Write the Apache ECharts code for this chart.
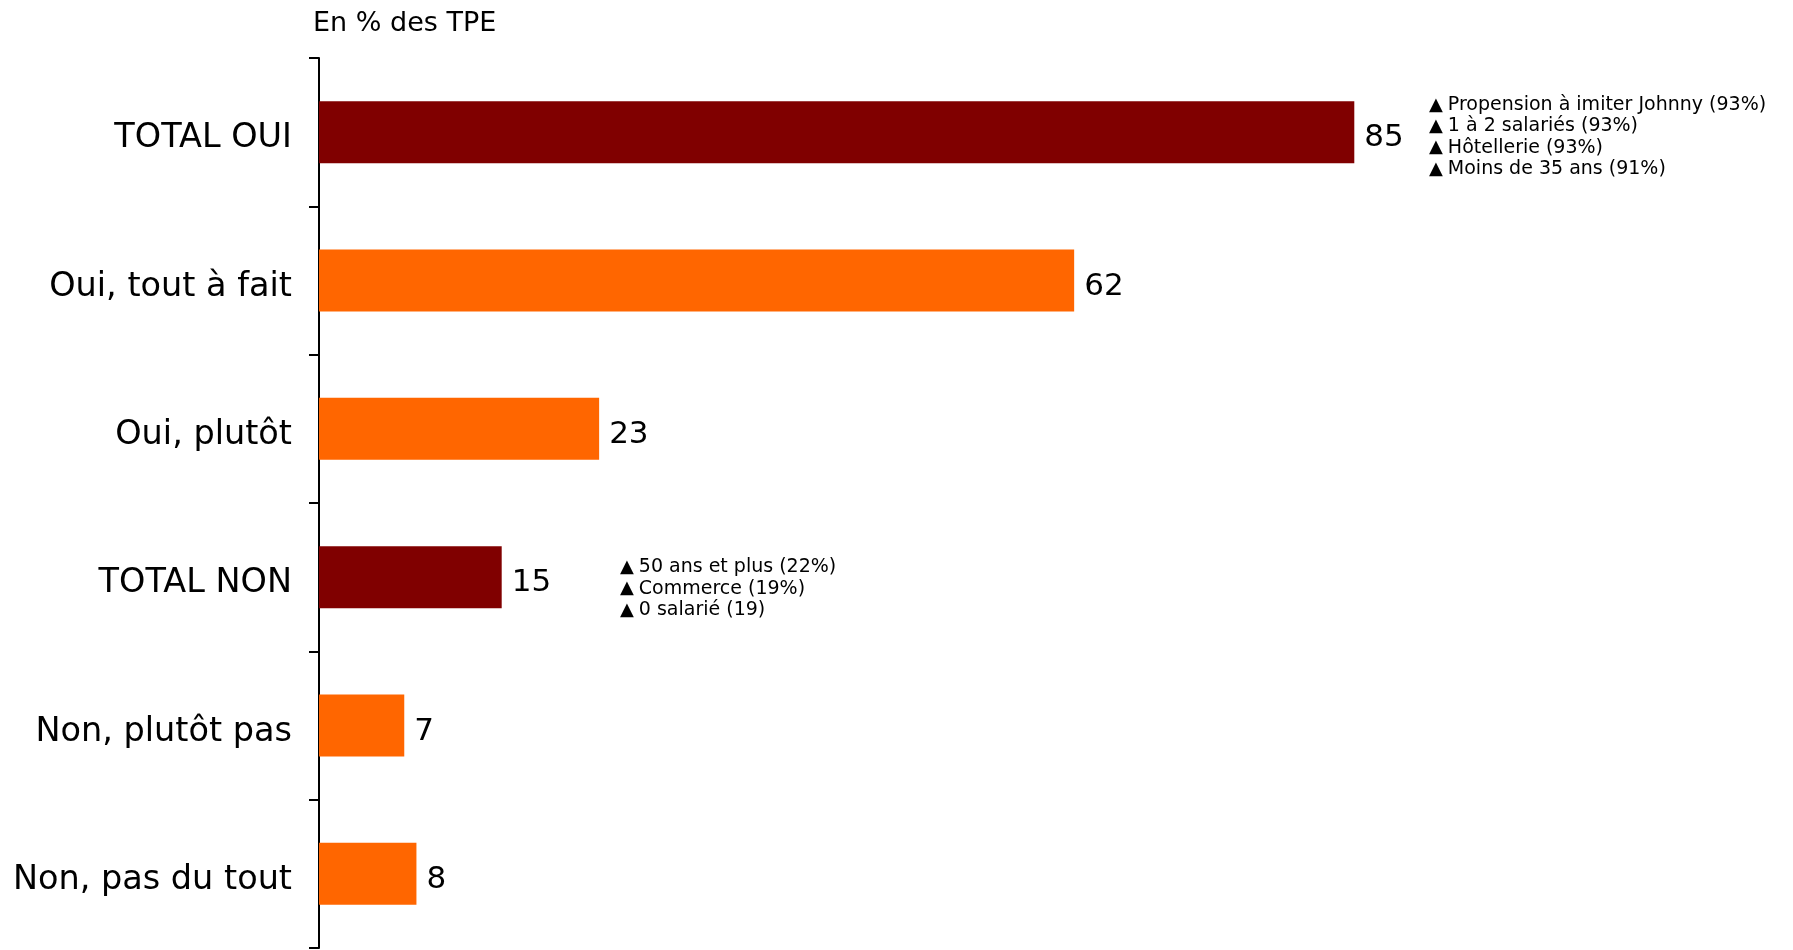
<!DOCTYPE html>
<html>
<head>
<meta charset="utf-8">
<script src="https://cdn.jsdelivr.net/npm/echarts@6/dist/echarts.min.js"></script>
<style>html,body{margin:0;padding:0;background:#fff}#c{width:1793px;height:950px}</style>
</head>
<body>
<div id="c"></div>
<script>
const categories = ['TOTAL OUI', 'Oui, tout à fait', 'Oui, plutôt', 'TOTAL NON', 'Non, plutôt pas', 'Non, pas du tout'];
const values = [85, 62, 23, 15, 7, 8];
const isTotal = [true, false, false, true, false, false];
const unitLabel = 'En % des TPE';
const notesOui = ['Propension à imiter Johnny (93%)', '1 à 2 salariés (93%)', 'Hôtellerie (93%)', 'Moins de 35 ans (91%)'];
const notesNon = ['50 ans et plus (22%)', 'Commerce (19%)', '0 salarié (19)'];

const FONT = 'DejaVu Sans, Verdana, sans-serif';
const chart = echarts.init(document.getElementById('c'));

chart.setOption({
  animation: false,
  backgroundColor: '#fff',
  grid: { left: 319, right: 256, top: 58, bottom: 2, containLabel: false },
  xAxis: { type: 'value', min: 0, max: 100, show: false },
  yAxis: {
    type: 'category', data: categories, inverse: true,
    axisLine: { show: true, lineStyle: { color: '#000', width: 2 } },
    axisTick: { show: true, length: 10, lineStyle: { color: '#000', width: 2 } },
    axisLabel: { margin: 27, fontSize: 33.5, color: '#000', fontFamily: FONT, verticalAlign: 'top', lineHeight: 13 },
    splitLine: { show: false }
  },
  series: [{
    type: 'bar',
    data: values.map((v, i) => ({ value: v, itemStyle: { color: isTotal[i] ? '#800000' : '#FF6600' } })),
    barWidth: 62,
    label: { show: true, position: 'right', distance: 10, fontSize: 31, color: '#000', fontFamily: FONT, offset: [0, 6] }
  }]
});

function noteBlock(lines, x, yCenter, lh) {
  const txt = lines.map(l => '{t|▲}{s|' + l + '}').join('\n');
  return {
    type: 'text', left: x, top: yCenter - lines.length * lh / 2,
    style: {
      text: txt, fill: '#000', fontFamily: FONT, fontSize: 19, lineHeight: lh,
      rich: {
        t: { fontSize: 18, fontFamily: FONT, lineHeight: lh, verticalAlign: 'middle' },
        s: { fontSize: 19, fontFamily: FONT, lineHeight: lh, padding: [0, 0, 0, 5] }
      }
    }
  };
}

const p1 = chart.convertToPixel({ gridIndex: 0 }, [0, 0]);
const p4 = chart.convertToPixel({ gridIndex: 0 }, [0, 3]);
chart.setOption({
  graphic: [
    { type: 'text', left: 313, top: 10, style: { text: unitLabel, fontSize: 27, fontFamily: FONT, fill: '#000' } },
    noteBlock(notesOui, 1429, p1[1] + 5, 21.3),
    noteBlock(notesNon, 620, p4[1] + 11.5, 21.3)
  ]
});
</script>
</body>
</html>
